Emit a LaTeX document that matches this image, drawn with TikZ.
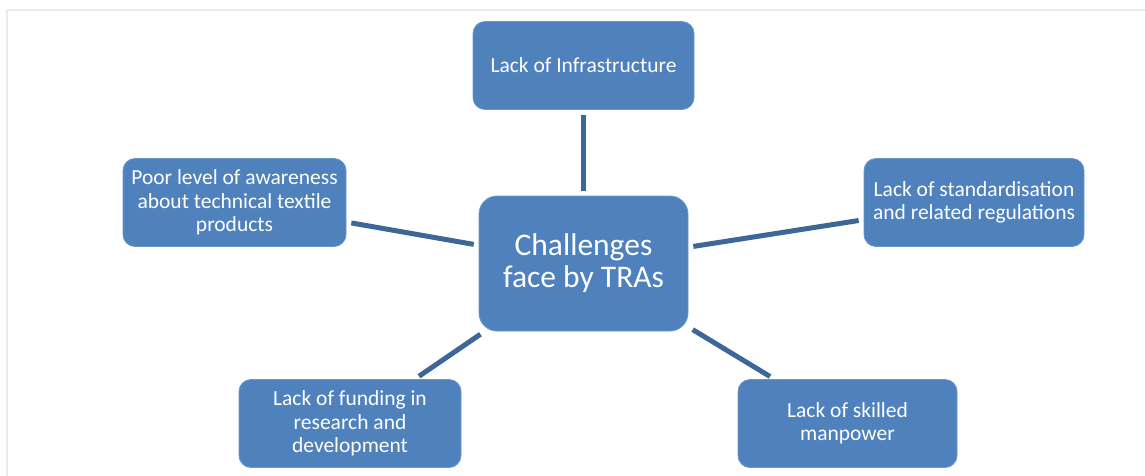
\documentclass[tikz,border=0pt]{standalone}
\usepackage{fontspec}
\setmainfont{Carlito}
\definecolor{boxfill}{HTML}{4F81BD}
\definecolor{boxline}{HTML}{6B96C9}
\definecolor{linkc}{HTML}{3D6796}
\definecolor{framec}{HTML}{EEEBE1}
\begin{document}
\begin{tikzpicture}[x=1pt,y=-1pt,
  box/.style={draw=boxline, line width=0.8pt, fill=boxfill, text=white, rounded corners=12pt,
    minimum width=221pt, minimum height=88pt, align=center, inner sep=2pt,
    font=\fontsize{21.5}{23.5}\selectfont},
  hub/.style={box, minimum width=209pt, minimum height=135pt, rounded corners=18pt,
    font=\fontsize{31.5}{32}\selectfont},
  link/.style={draw=linkc, line width=5pt, shorten <=5pt, shorten >=5pt}]
\useasboundingbox (0,0) rectangle (1145,475);
\draw[framec, line width=2pt] (6.5,480) -- (6.5,9.5) -- (1150,9.5);
\node[hub] (c) at (583.5,263.5) {Challenges\\face by TRAs};
\node[box] (t) at (583.5,65.5) {Lack of Infrastructure};
\node[box, minimum width=223pt] (l) at (234.5,202.5) {Poor level of awareness\\about technical textile\\products};
\node[box, minimum width=220pt] (r) at (974,202.5) {Lack of standardisation\\and related regulations};
\node[box, minimum width=222pt] (bl) at (350,423.5) {Lack of funding in\\research and\\development};
\node[box, minimum width=219pt] (br) at (847.5,423.5) {Lack of skilled\\manpower};
\draw[link] (t) -- (c);
\draw[link] (l) -- (c);
\draw[link] (r) -- (c);
\draw[link] (bl) -- (c);
\draw[link] (br) -- (c);
\end{tikzpicture}
\end{document}
